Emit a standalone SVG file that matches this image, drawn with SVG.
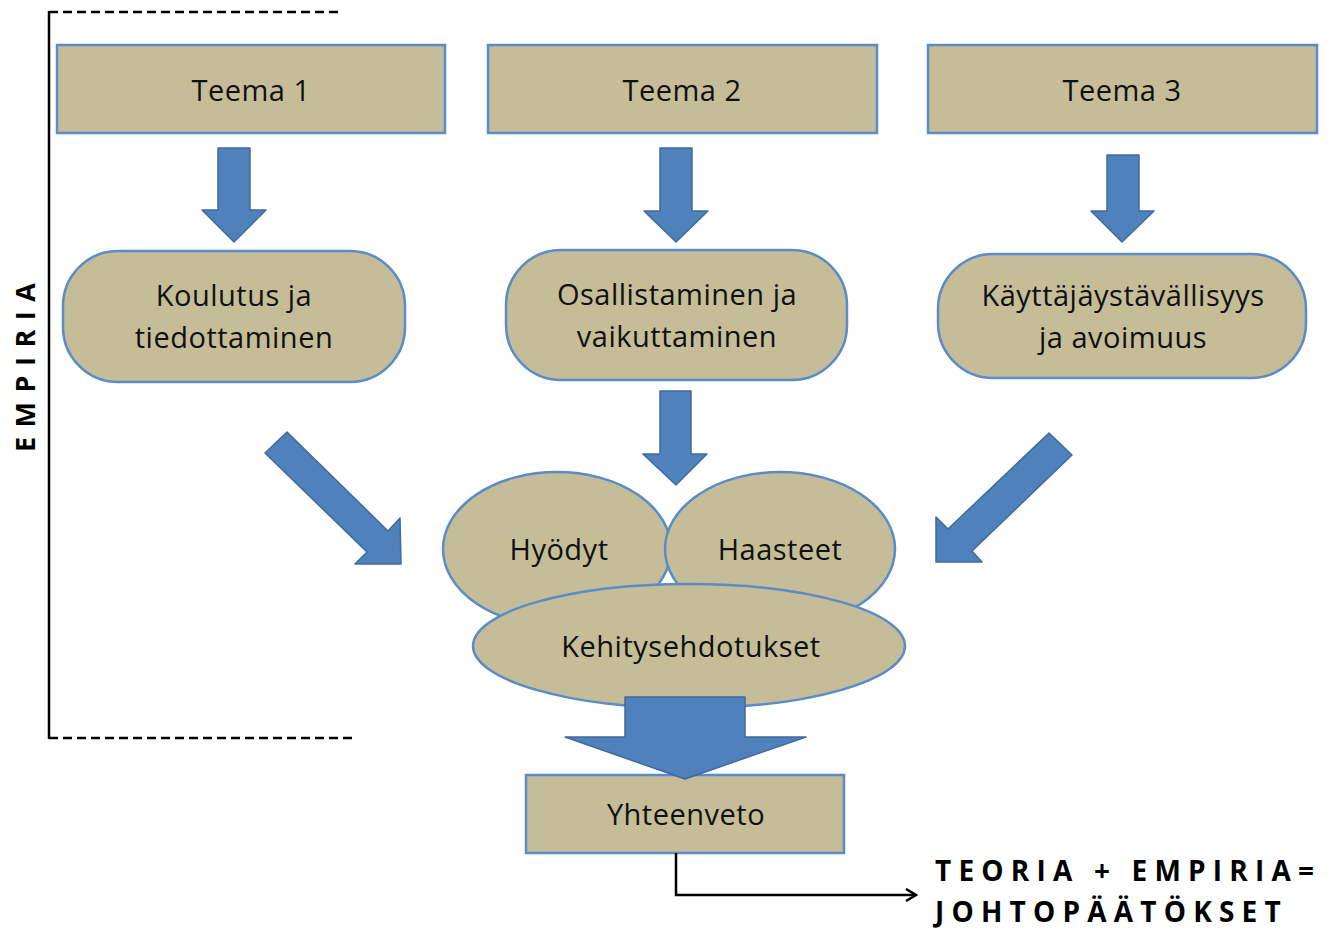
<svg xmlns="http://www.w3.org/2000/svg" width="1338" height="929" viewBox="0 0 1338 929">
<style>
.box{fill:#C4BD97;stroke:#5B8BC8;stroke-width:2.5}
.arr{fill:#4F81BD;stroke:#3F6A9E;stroke-width:1.5;stroke-linejoin:round}
.t{font-family:"Open Sans","Liberation Sans",sans-serif;font-size:29px;fill:#111;text-anchor:middle;letter-spacing:0.5px}
.b{font-family:"Open Sans","Liberation Sans",sans-serif;font-weight:bold;font-size:28px;fill:#000;letter-spacing:7.2px}
.br{stroke:#000;stroke-width:2.5;fill:none}
</style>
<defs>
<marker id="open" markerWidth="14" markerHeight="14" refX="12" refY="7" orient="auto" markerUnits="userSpaceOnUse">
<path d="M2,1 L12,7 L2,13" fill="none" stroke="#000" stroke-width="2.5"/>
</marker>
</defs>
<g id="bracket">
<line class="br" x1="49" y1="11" x2="49" y2="739"/>
<line class="br" x1="49" y1="12" x2="340" y2="12" stroke-dasharray="9,5"/>
<line class="br" x1="49" y1="738" x2="357" y2="738" stroke-dasharray="9,5"/>
<text class="b" transform="translate(35,452) rotate(-90)" style="font-size:27px;letter-spacing:9.5px">EMPIRIA</text>
</g>
<g id="teema1"><rect class="box" x="57" y="45" width="388" height="88"/><text class="t" x="251" y="101">Teema 1</text></g>
<g id="teema2"><rect class="box" x="488" y="45" width="389" height="88"/><text class="t" x="682" y="101">Teema 2</text></g>
<g id="teema3"><rect class="box" x="928" y="45" width="389" height="88"/><text class="t" x="1122" y="101">Teema 3</text></g>
<g id="koulutus"><rect class="box" x="63" y="251" width="342" height="131" rx="55"/><text class="t" x="234" y="306">Koulutus ja</text><text class="t" x="234" y="348">tiedottaminen</text></g>
<g id="osallistaminen"><rect class="box" x="506" y="250" width="341" height="130" rx="55"/><text class="t" x="677" y="305">Osallistaminen ja</text><text class="t" x="677" y="347">vaikuttaminen</text></g>
<g id="kayttajaystavallisyys"><rect class="box" x="938" y="254" width="368" height="124" rx="55"/><text class="t" x="1123" y="306">Käyttäjäystävällisyys</text><text class="t" x="1123" y="348">ja avoimuus</text></g>
<g id="hyodyt"><ellipse class="box" cx="557" cy="549" rx="114" ry="77"/><text class="t" x="559" y="560">Hyödyt</text></g>
<g id="haasteet"><ellipse class="box" cx="780" cy="549" rx="115" ry="77"/><text class="t" x="780" y="560">Haasteet</text></g>
<g id="kehitysehdotukset"><ellipse class="box" cx="689" cy="646" rx="216" ry="62"/><text class="t" x="691" y="657">Kehitysehdotukset</text></g>
<g id="yhteenveto"><rect class="box" x="526" y="775" width="318" height="78"/><text class="t" x="686" y="825">Yhteenveto</text></g>
<g id="conclusion">
<text class="b" x="935" y="881">TEORIA + EMPIRIA=</text>
<text class="b" x="935" y="922">JOHTOPÄÄTÖKSET</text>
</g>
<g id="connectors">
<polygon class="arr" points="218,148 250,148 250,210 266,210 234,242 202,210 218,210"/>
<polygon class="arr" points="660,148 692,148 692,211 708,211 676,242 644,211 660,211"/>
<polygon class="arr" points="1107,155 1139,155 1139,211 1154,211 1122,242 1091,211 1107,211"/>
<polygon class="arr" points="660,391 691,391 691,454 707,454 676,485 643,454 660,454"/>
<polygon class="arr" points="265,453 287,432 388,531 400,518 401,564 355,564 367,552"/>
<polygon class="arr" points="1072,455 1049,433 948,529 936,517 936,562 982,562 972,551"/>
<polygon class="arr" points="625,697 745,697 745,737 806,737 685,779 565,737 625,737"/>
<polyline points="676,853 676,895 916,895" fill="none" stroke="#000" stroke-width="2.5" marker-end="url(#open)"/>
</g>
</svg>
